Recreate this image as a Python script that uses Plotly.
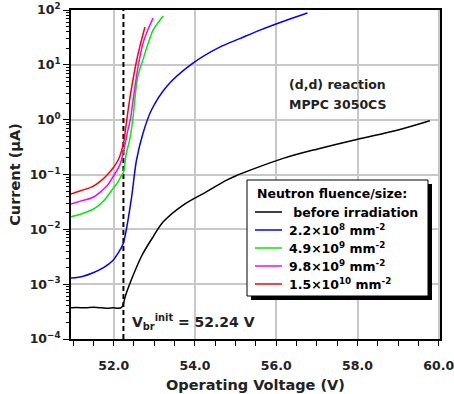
import plotly.graph_objects as go

# Breakdown voltage of the unirradiated device
VBR = 52.24

# I-V curves: operating voltage (V) and current (uA)
v_before = [50.95, 51.1, 51.3, 51.5, 51.7, 51.85, 52.0, 52.1, 52.2, 52.3, 52.43,
            52.7, 52.97, 53.22, 53.71, 54.28, 54.78, 55.0, 55.36, 56.17, 57.0, 57.98, 59.0, 59.78]
i_before = [3.7e-4, 3.75e-4, 3.7e-4, 3.78e-4, 3.72e-4, 3.65e-4, 3.7e-4, 3.62e-4, 3.8e-4, 6.5e-4, 1.18e-3,
            3.4e-3, 7.3e-3, 0.0137, 0.0277, 0.0483, 0.079, 0.094, 0.12, 0.197, 0.29, 0.436, 0.65, 0.955]

v_22e8 = [50.95, 51.25, 51.48, 51.75, 51.98, 52.1, 52.23, 52.43, 52.56, 52.72, 52.93, 53.3,
          53.95, 54.61, 55.1, 55.6, 56.2, 56.77]
i_22e8 = [1.29e-3, 1.4e-3, 1.6e-3, 2.0e-3, 2.7e-3, 3.6e-3, 5.4e-3, 0.034, 0.18, 0.56, 1.5, 4.0,
          10.7, 21.0, 30.0, 43.0, 63.0, 88.0]

v_49e9 = [50.95, 51.2, 51.48, 51.65, 51.8, 51.94, 52.1, 52.19, 52.24, 52.31, 52.4, 52.47,
          52.59, 52.72, 52.85, 52.97, 53.22]
i_49e9 = [0.017, 0.019, 0.023, 0.028, 0.036, 0.05, 0.072, 0.095, 0.11, 0.24, 0.45, 1.0,
          6.0, 12.3, 25.0, 43.0, 78.0]

v_98e9 = [50.95, 51.2, 51.48, 51.7, 51.85, 51.96, 52.15, 52.23, 52.35, 52.41, 52.5, 52.6,
          52.72, 52.85, 52.97]
i_98e9 = [0.029, 0.033, 0.038, 0.05, 0.064, 0.085, 0.148, 0.24, 0.645, 1.0, 3.0, 9.2,
          24.5, 45.0, 71.0]

v_15e10 = [50.95, 51.2, 51.48, 51.7, 51.85, 51.98, 52.12, 52.24, 52.3, 52.4, 52.56, 52.64, 52.77]
i_15e10 = [0.044, 0.051, 0.06, 0.078, 0.1, 0.13, 0.19, 0.37, 0.75, 2.5, 11.5, 21.0, 49.0]

series = [
    ("\u00a0before irradiation", v_before, i_before, "#000000"),
    ("2.2\u00d710<sup>8</sup> mm<sup>-2</sup>", v_22e8, i_22e8, "#0000ff"),
    ("4.9\u00d710<sup>9</sup> mm<sup>-2</sup>", v_49e9, i_49e9, "#00ee00"),
    ("9.8\u00d710<sup>9</sup> mm<sup>-2</sup>", v_98e9, i_98e9, "#ff00ff"),
    ("1.5\u00d710<sup>10</sup> mm<sup>-2</sup>", v_15e10, i_15e10, "#ff0000"),
]
legend_title = "Neutron fluence/size:"

# Axis ticks
x_range = [50.95, 60.03]
y_exponents = [-4, -3, -2, -1, 0, 1, 2]
y_tickvals = [10.0 ** e for e in y_exponents]
y_ticktext = ["10<sup>%s</sup>" % (str(e).replace("-", "\u2212")) for e in y_exponents]
y_minor = [m * 10.0 ** e for e in y_exponents[:-1] for m in range(2, 10)]

FONT = "DejaVu Sans"
TXT = "#222222"

# Plot-area geometry in pixels (used to place the legend box)
W, H = 454, 394
ML, MR, MT, MB = 71, 14, 10, 55
PW, PH = W - ML - MR, H - MT - MB


def px(x):
    return (x - ML) / PW


def py(y):
    return (H - MB - y) / PH


fig = go.Figure()

# Vertical marker at the initial breakdown voltage
fig.add_trace(go.Scatter(
    x=[VBR, VBR], y=[1e-4, 1e2], mode="lines", showlegend=False, hoverinfo="skip",
    line=dict(color="black", width=2, dash="5px,3px"),
))

for name, v, i, color in series:
    fig.add_trace(go.Scatter(
        x=v, y=i, mode="lines", name=name, showlegend=False,
        line=dict(color=color, width=1.5, shape="spline", smoothing=0.9),
    ))

# Legend box with drop shadow
box = (247, 180, 428, 296)
shadow = 4
fig.add_shape(type="rect", xref="paper", yref="paper", layer="above",
              x0=px(box[0] + shadow), x1=px(box[2] + shadow),
              y0=py(box[3] + shadow), y1=py(box[1] + shadow),
              fillcolor="black", line=dict(width=0))
fig.add_shape(type="rect", xref="paper", yref="paper", layer="above",
              x0=px(box[0]), x1=px(box[2]), y0=py(box[3]), y1=py(box[1]),
              fillcolor="white", line=dict(color="black", width=1))
fig.add_annotation(x=px(255), y=py(193), xref="paper", yref="paper",
                   xanchor="left", yanchor="middle", showarrow=False,
                   text=legend_title,
                   font=dict(family=FONT, size=12.5, color="black", weight="bold"))
row_y = [212, 230, 248, 266, 284]
for (name, _, _, color), ry in zip(series, row_y):
    fig.add_shape(type="line", xref="paper", yref="paper", layer="above",
                  x0=px(255), x1=px(282), y0=py(ry), y1=py(ry),
                  line=dict(color=color, width=1.5))
    fig.add_annotation(x=px(287), y=py(ry), xref="paper", yref="paper",
                       xanchor="left", yanchor="middle", showarrow=False,
                       text=name,
                       font=dict(family=FONT, size=12.5, color="black", weight="bold"))

fig.add_annotation(
    x=px(287), y=py(85), xref="paper", yref="paper", xanchor="left", yanchor="middle",
    text="(d,d) reaction", showarrow=False,
    font=dict(family=FONT, size=12.5, color=TXT, weight="bold"),
)
fig.add_annotation(
    x=px(287), y=py(104), xref="paper", yref="paper", xanchor="left", yanchor="middle",
    text="MPPC 3050CS", showarrow=False,
    font=dict(family=FONT, size=12.5, color=TXT, weight="bold"),
)
fig.add_annotation(
    x=px(130), y=py(322), xref="paper", yref="paper", xanchor="left", yanchor="middle",
    text="V<sub>br</sub><sup>init</sup> = %.2f V" % VBR, showarrow=False,
    font=dict(family=FONT, size=14, color=TXT, weight="bold"),
)

axis_common = dict(
    showline=True, linecolor="black", linewidth=2, mirror=True,
    showgrid=True, gridcolor="#c8c8c8", gridwidth=1.5,
    ticks="outside", tickcolor="black", tickwidth=1,
    tickfont=dict(family=FONT, size=12.5, color=TXT, weight="bold"),
    zeroline=False, ticklabeloverflow="allow", automargin=False,
)

fig.update_xaxes(
    **axis_common,
    range=x_range, tick0=52, dtick=2, tickformat=".1f", ticklen=5,
    ticklabelstandoff=9,
    minor=dict(ticks="outside", dtick=0.5, tick0=52, ticklen=5, tickcolor="black", showgrid=False),
    title=dict(text="Operating Voltage (V)", standoff=8,
               font=dict(family=FONT, size=14.5, color=TXT, weight="bold")),
)
fig.update_yaxes(
    **axis_common,
    type="log", range=[-4, 2], tickvals=y_tickvals, ticktext=y_ticktext, ticklen=6,
    minor=dict(ticks="outside", tickvals=y_minor, ticklen=3, tickcolor="black", showgrid=False),
    title=dict(text="Current (\u03bcA)", standoff=6,
               font=dict(family=FONT, size=14.5, color=TXT, weight="bold")),
)

fig.update_layout(
    width=W, height=H,
    margin=dict(l=ML, r=MR, t=MT, b=MB),
    paper_bgcolor="white", plot_bgcolor="white",
    showlegend=False,
)

fig.write_html("out.html")
